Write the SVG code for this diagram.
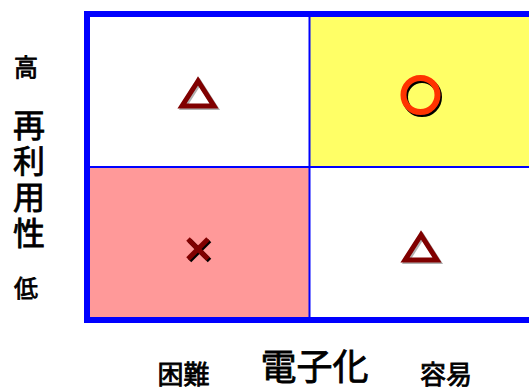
<svg xmlns="http://www.w3.org/2000/svg" width="529" height="388" viewBox="0 0 529 388">
<style>
.lbl{font-family:"Noto Sans CJK JP","Noto Sans CJK SC",sans-serif;font-weight:normal;fill:#000;stroke:#000;stroke-width:0.8;text-anchor:middle}
.tri{fill:none;stroke:#800000;stroke-width:5;stroke-linejoin:miter}
.tri-sh{fill:none;stroke:#b0b0b0;stroke-width:5;stroke-linejoin:miter}
</style>
<rect width="529" height="388" fill="#fff"/>
<g id="grid">
<rect x="310" y="17" width="222" height="150" fill="#FFFF66"/>
<rect x="90" y="167" width="220" height="151" fill="#FF9999"/>
<line x1="309.5" y1="17" x2="309.5" y2="318" stroke="#0000FF" stroke-width="2"/>
<line x1="90" y1="167" x2="535" y2="167" stroke="#0000FF" stroke-width="2"/>
<rect x="87" y="14" width="460" height="306" fill="none" stroke="#0000FF" stroke-width="6"/>
</g>
<g id="tl">
<polygon class="tri-sh" points="199.5,82.5 183.5,107.5 215.5,107.5"/>
<polygon class="tri" points="198,81 182,106 214,106"/>
</g>
<g id="tr">
<circle cx="422" cy="97" r="17" fill="none" stroke="#000" stroke-width="6"/>
<circle cx="420.5" cy="95" r="17" fill="none" stroke="#FF3300" stroke-width="6"/>
</g>
<g id="bl">
<g stroke="#000" stroke-width="5" transform="translate(1.5,1.5)"><line x1="188" y1="239" x2="208" y2="259"/><line x1="208" y1="239" x2="188" y2="259"/></g>
<g stroke="#800000" stroke-width="5"><line x1="188" y1="239" x2="208" y2="259"/><line x1="208" y1="239" x2="188" y2="259"/></g>
</g>
<g id="br">
<polygon class="tri-sh" points="422.5,236.5 406.5,261.5 438.5,261.5"/>
<polygon class="tri" points="421,235 405,260 437,260"/>
</g>
<g id="labels">
<text class="lbl" x="26" y="76" font-size="24">高</text>
<text class="lbl" x="29" y="137" font-size="32"><tspan x="29" y="137">再</tspan><tspan x="29" y="173">利</tspan><tspan x="29" y="209">用</tspan><tspan x="29" y="245">性</tspan></text>
<text class="lbl" x="26" y="297" font-size="24">低</text>
<text class="lbl" x="183.5" y="384" font-size="26">困難</text>
<text class="lbl" x="314.5" y="380" font-size="36">電子化</text>
<text class="lbl" x="446" y="384" font-size="26">容易</text>
</g>
</svg>
